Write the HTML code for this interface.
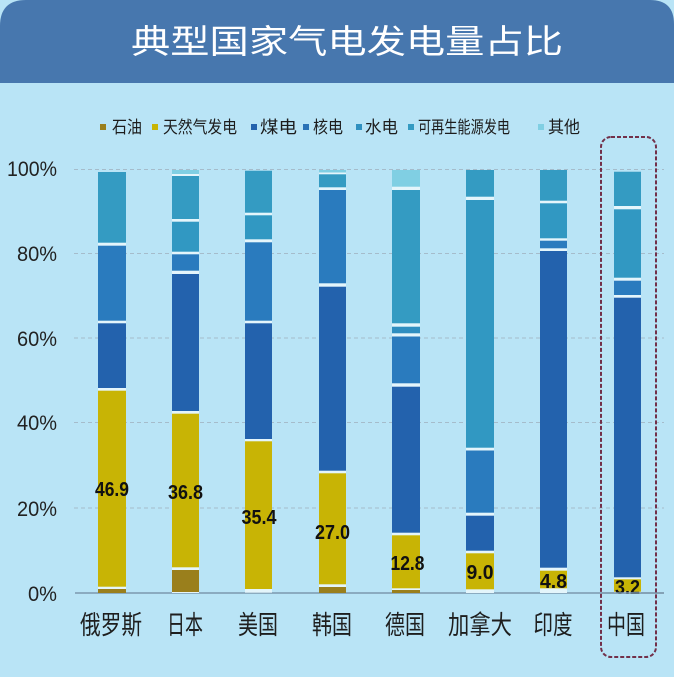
<!DOCTYPE html>
<html><head><meta charset="utf-8"><style>
html,body{margin:0;padding:0;background:#b9e4f6;}
svg{display:block;}
</style></head><body>
<svg width="674" height="677" viewBox="0 0 674 677" xmlns="http://www.w3.org/2000/svg" font-family="'Liberation Sans','Noto Sans CJK SC',sans-serif">
<rect x="0" y="0" width="674" height="677" fill="#b9e4f6"/>
<path d="M0,83 L0,26 Q0,0 26,0 L650,0 Q674,0 674,24 L674,83 Z" fill="#4777ae"/>
<text x="131" y="53" font-size="33" fill="#ffffff" textLength="432" lengthAdjust="spacingAndGlyphs" font-family="'Liberation Sans','Noto Sans CJK SC',sans-serif">典型国家气电发电量占比</text>

<!-- legend -->
<g font-size="17" fill="#1c1c1c">
<rect x="100" y="124" width="6" height="6" fill="#9a7f1c"/><text x="112" y="133" textLength="30" lengthAdjust="spacingAndGlyphs">石油</text>
<rect x="152" y="124" width="6" height="6" fill="#c8b405"/><text x="163" y="133" textLength="74" lengthAdjust="spacingAndGlyphs">天然气发电</text>
<rect x="251" y="124" width="6" height="6" fill="#2362ad"/><text x="260" y="133" textLength="37" lengthAdjust="spacingAndGlyphs">煤电</text>
<rect x="303" y="124" width="6" height="6" fill="#2a72b6"/><text x="313" y="133" textLength="30" lengthAdjust="spacingAndGlyphs">核电</text>
<rect x="356" y="124" width="6" height="6" fill="#2f90c0"/><text x="365" y="133" textLength="33" lengthAdjust="spacingAndGlyphs">水电</text>
<rect x="408" y="124" width="6" height="6" fill="#349bc2"/><text x="418" y="133" textLength="92" lengthAdjust="spacingAndGlyphs">可再生能源发电</text>
<rect x="538" y="124" width="6" height="6" fill="#80cfe3"/><text x="548" y="133" textLength="32" lengthAdjust="spacingAndGlyphs">其他</text>
</g>

<!-- gridlines -->
<g stroke="#a5bccb" stroke-width="1" stroke-dasharray="4 3">
<line x1="74" y1="169.5" x2="664" y2="169.5"/>
<line x1="74" y1="253.5" x2="664" y2="253.5"/>
<line x1="74" y1="338" x2="664" y2="338"/>
<line x1="74" y1="422.5" x2="664" y2="422.5"/>
<line x1="74" y1="508" x2="664" y2="508"/>
</g>
<line x1="75" y1="593" x2="664" y2="593" stroke="#7c98ad" stroke-width="1.5"/>

<!-- y labels -->
<g font-size="21" fill="#222" text-anchor="end">
<text x="57" y="176" textLength="50" lengthAdjust="spacingAndGlyphs">100%</text>
<text x="57" y="261" textLength="40" lengthAdjust="spacingAndGlyphs">80%</text>
<text x="57" y="346" textLength="40" lengthAdjust="spacingAndGlyphs">60%</text>
<text x="57" y="430" textLength="40" lengthAdjust="spacingAndGlyphs">40%</text>
<text x="57" y="516" textLength="40" lengthAdjust="spacingAndGlyphs">20%</text>
<text x="57" y="601" textLength="29" lengthAdjust="spacingAndGlyphs">0%</text>
</g>

<!-- bars -->
<g>
<!-- Russia -->
<rect x="98" y="172" width="28" height="421" fill="#e4f5fb"/>
<rect x="98" y="172" width="28" height="70.7" fill="#349bc2"/>
<rect x="98" y="245.7" width="28" height="75" fill="#2a7bbe"/>
<rect x="98" y="323.3" width="28" height="64.7" fill="#2362ad"/>
<rect x="98" y="390.7" width="28" height="196" fill="#c8b405"/>
<rect x="98" y="589" width="28" height="4" fill="#9a7f1c"/>
<!-- Japan -->
<rect x="172" y="170" width="27" height="423" fill="#e4f5fb"/>
<rect x="172" y="170" width="27" height="4" fill="#80cfe3"/>
<rect x="172" y="176" width="27" height="43" fill="#349bc2"/>
<rect x="172" y="221.7" width="27" height="30" fill="#3198c2"/>
<rect x="172" y="254.3" width="27" height="16.4" fill="#2a7bbe"/>
<rect x="172" y="274" width="27" height="137" fill="#2362ad"/>
<rect x="172" y="413.7" width="27" height="153.6" fill="#c8b405"/>
<rect x="172" y="570" width="27" height="22" fill="#9a7f1c"/>
<!-- US -->
<rect x="245" y="170.7" width="27" height="422" fill="#e4f5fb"/>
<rect x="245" y="170.7" width="27" height="42" fill="#349bc2"/>
<rect x="245" y="215.3" width="27" height="24" fill="#3198c2"/>
<rect x="245" y="242.3" width="27" height="78.4" fill="#2a7bbe"/>
<rect x="245" y="323.3" width="27" height="115.7" fill="#2362ad"/>
<rect x="245" y="441.3" width="27" height="147.7" fill="#c8b405"/>
<!-- Korea -->
<rect x="319" y="170" width="27" height="423" fill="#e4f5fb"/>
<rect x="319" y="170" width="27" height="2.5" fill="#80cfe3"/>
<rect x="319" y="174.3" width="27" height="13" fill="#349bc2"/>
<rect x="319" y="190" width="27" height="93.3" fill="#2a7bbe"/>
<rect x="319" y="286.7" width="27" height="184" fill="#2362ad"/>
<rect x="319" y="473.3" width="27" height="111" fill="#c8b405"/>
<rect x="319" y="587" width="27" height="6" fill="#9a7f1c"/>
<!-- Germany -->
<rect x="392" y="170" width="28" height="423" fill="#e4f5fb"/>
<rect x="392" y="170" width="28" height="16.7" fill="#80cfe3"/>
<rect x="392" y="190" width="28" height="133.3" fill="#349bc2"/>
<rect x="392" y="326.7" width="28" height="6.6" fill="#2f8ec0"/>
<rect x="392" y="336.5" width="28" height="46.8" fill="#2a7bbe"/>
<rect x="392" y="386.7" width="28" height="146" fill="#2362ad"/>
<rect x="392" y="535.3" width="28" height="53" fill="#c8b405"/>
<rect x="392" y="590" width="28" height="3" fill="#9a7f1c"/>
<!-- Canada -->
<rect x="466" y="170" width="28" height="423" fill="#e4f5fb"/>
<rect x="466" y="170" width="28" height="26.7" fill="#349bc2"/>
<rect x="466" y="200" width="28" height="247.7" fill="#3198c2"/>
<rect x="466" y="450.5" width="28" height="62.2" fill="#2a7bbe"/>
<rect x="466" y="515.7" width="28" height="35" fill="#2362ad"/>
<rect x="466" y="553.3" width="28" height="36" fill="#c8b405"/>
<!-- India -->
<rect x="540" y="170" width="27" height="423" fill="#e4f5fb"/>
<rect x="540" y="170" width="27" height="30.7" fill="#349bc2"/>
<rect x="540" y="203.3" width="27" height="35" fill="#3198c2"/>
<rect x="540" y="240.7" width="27" height="7.6" fill="#2a7bbe"/>
<rect x="540" y="251" width="27" height="316.7" fill="#2362ad"/>
<rect x="540" y="570.7" width="27" height="17.6" fill="#c8b405"/>
<!-- China -->
<rect x="614" y="171.7" width="27" height="421" fill="#e4f5fb"/>
<rect x="614" y="171.7" width="27" height="34.3" fill="#349bc2"/>
<rect x="614" y="209.3" width="27" height="68.4" fill="#3198c2"/>
<rect x="614" y="280.7" width="27" height="14.3" fill="#2a7bbe"/>
<rect x="614" y="297.7" width="27" height="279.6" fill="#2362ad"/>
<rect x="614" y="579.3" width="27" height="12.4" fill="#c8b405"/>
</g>

<!-- value labels -->
<g font-size="20" font-weight="bold" fill="#111" text-anchor="middle">
<text x="112" y="496" textLength="34" lengthAdjust="spacingAndGlyphs">46.9</text>
<text x="185.5" y="499" textLength="35" lengthAdjust="spacingAndGlyphs">36.8</text>
<text x="259" y="524" textLength="35" lengthAdjust="spacingAndGlyphs">35.4</text>
<text x="332.5" y="539" textLength="35" lengthAdjust="spacingAndGlyphs">27.0</text>
<text x="407.5" y="570" textLength="34" lengthAdjust="spacingAndGlyphs">12.8</text>
<text x="480" y="579" textLength="27" lengthAdjust="spacingAndGlyphs">9.0</text>
<text x="553.5" y="588" textLength="27" lengthAdjust="spacingAndGlyphs">4.8</text>
<text x="627.5" y="594" textLength="25" lengthAdjust="spacingAndGlyphs">3.2</text>
</g>
<line x1="601" y1="593" x2="664" y2="593" stroke="#7c98ad" stroke-width="1.5"/>

<!-- country labels -->
<g font-size="26" fill="#1e1e1e" text-anchor="middle">
<text x="111" y="634" textLength="62" lengthAdjust="spacingAndGlyphs">俄罗斯</text>
<text x="185" y="634" textLength="36" lengthAdjust="spacingAndGlyphs">日本</text>
<text x="258" y="634" textLength="40" lengthAdjust="spacingAndGlyphs">美国</text>
<text x="332" y="634" textLength="40" lengthAdjust="spacingAndGlyphs">韩国</text>
<text x="405" y="634" textLength="40" lengthAdjust="spacingAndGlyphs">德国</text>
<text x="480" y="634" textLength="64" lengthAdjust="spacingAndGlyphs">加拿大</text>
<text x="553" y="634" textLength="39" lengthAdjust="spacingAndGlyphs">印度</text>
<text x="626" y="634" textLength="38" lengthAdjust="spacingAndGlyphs">中国</text>
</g>

<!-- highlight box -->
<rect x="601" y="137" width="55" height="520" rx="10" ry="10" fill="none" stroke="#72304a" stroke-width="2" stroke-dasharray="4 2"/>
</svg>
</body></html>
